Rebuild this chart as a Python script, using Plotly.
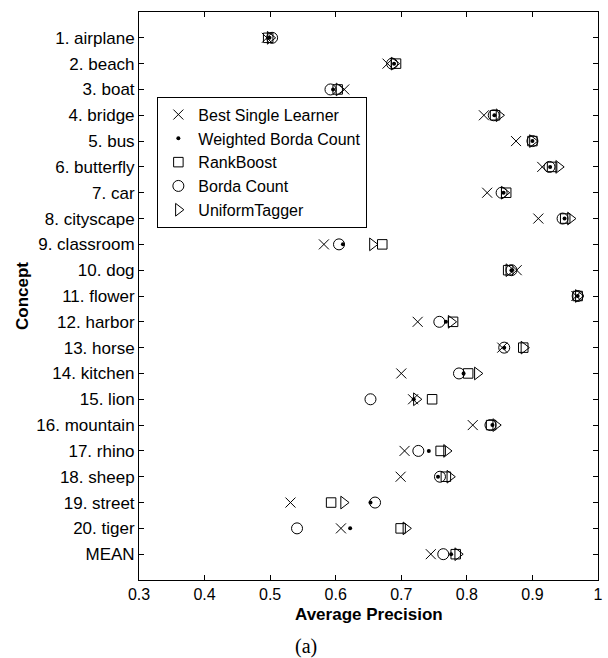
import plotly.graph_objects as go

categories = ["1. airplane", "2. beach", "3. boat", "4. bridge", "5. bus", "6. butterfly",
              "7. car", "8. cityscape", "9. classroom", "10. dog", "11. flower", "12. harbor",
              "13. horse", "14. kitchen", "15. lion", "16. mountain", "17. rhino", "18. sheep",
              "19. street", "20. tiger", "MEAN"]

best_single = [0.495, 0.679, 0.613, 0.826, 0.875, 0.915, 0.831, 0.909, 0.582, 0.876, 0.967,
               0.725, 0.854, 0.700, 0.718, 0.809, 0.705, 0.699, 0.531, 0.608, 0.745]
weighted_borda = [0.499, 0.689, 0.596, 0.842, 0.900, 0.927, 0.856, 0.949, 0.611, 0.868, 0.969,
                  0.768, 0.857, 0.795, 0.719, 0.839, 0.742, 0.756, 0.653, 0.622, 0.776]
rankboost = [0.497, 0.692, 0.603, 0.843, 0.900, 0.930, 0.860, 0.950, 0.671, 0.863, 0.969,
             0.779, 0.886, 0.802, 0.747, 0.837, 0.760, 0.768, 0.593, 0.699, 0.783]
borda_count = [0.503, 0.686, 0.592, 0.841, 0.900, 0.926, 0.853, 0.946, 0.605, 0.868, 0.969,
               0.758, 0.857, 0.788, 0.653, 0.836, 0.726, 0.759, 0.660, 0.541, 0.764]
uniform_tagger = [0.500, 0.689, 0.605, 0.849, 0.900, 0.940, 0.857, 0.958, 0.656, 0.864, 0.970,
                  0.776, 0.887, 0.816, 0.723, 0.844, 0.769, 0.774, 0.612, 0.707, 0.786]

x_ticks = [0.3, 0.4, 0.5, 0.6, 0.7, 0.8, 0.9, 1.0]
x_tick_text = ["0.3", "0.4", "0.5", "0.6", "0.7", "0.8", "0.9", "1"]

FONT = "Liberation Sans, Arial, Helvetica, sans-serif"

series = [
    ("Best Single Learner", best_single, dict(symbol="x-thin-open", size=10, color="black",
                                               line=dict(color="black", width=1))),
    ("Weighted Borda Count", weighted_borda, dict(symbol="circle", size=4, color="black",
                                                  line=dict(color="black", width=0))),
    ("RankBoost", rankboost, dict(symbol="square-open", size=9.5, color="black",
                                  line=dict(color="black", width=1))),
    ("Borda Count", borda_count, dict(symbol="circle-open", size=11, color="black",
                                      line=dict(color="black", width=1))),
    ("UniformTagger", uniform_tagger, dict(symbol="triangle-right-open", size=11, color="black",
                                           line=dict(color="black", width=1))),
]

fig = go.Figure()
for name, vals, marker in series:
    fig.add_trace(go.Scatter(x=vals, y=categories, mode="markers", name=name, marker=marker))

fig.update_layout(
    width=608, height=658,
    margin=dict(l=139, r=5, t=12, b=78, pad=0),
    plot_bgcolor="white", paper_bgcolor="white",
    font=dict(family=FONT, size=17, color="black"),
    showlegend=True,
    legend=dict(x=0.040, y=0.851, xanchor="left", yanchor="top",
                bordercolor="black", borderwidth=1, bgcolor="white",
                font=dict(family=FONT, size=16, color="black"),
                tracegroupgap=0, itemsizing="trace",
                entrywidth=212, entrywidthmode="pixels"),
    xaxis=dict(range=[0.3, 1.0], tickvals=x_ticks, ticktext=x_tick_text,
               ticks="inside", ticklen=5, tickcolor="black", tickwidth=1,
               showline=True, linecolor="black", linewidth=1, mirror="allticks",
               showgrid=False, zeroline=False,
               tickfont=dict(family=FONT, size=16, color="black")),
    yaxis=dict(type="category", categoryorder="array", categoryarray=categories,
               range=[21, -1],
               ticks="inside", ticklen=5, tickcolor="black", tickwidth=1,
               showline=True, linecolor="black", linewidth=1, mirror="allticks",
               showgrid=False, zeroline=False,
               tickfont=dict(family=FONT, size=17, color="black")),
    annotations=[
        dict(text="<b>Concept</b>", xref="paper", yref="paper",
             x=(20.7 - 139) / 464, y=(580 - 296) / 568, textangle=-90,
             xanchor="center", yanchor="middle", showarrow=False,
             font=dict(family=FONT, size=17, color="black")),
        dict(text="<b>Average Precision</b>", xref="paper", yref="paper",
             x=0.5, y=(580 - 614) / 568, xanchor="center", yanchor="middle",
             showarrow=False, font=dict(family=FONT, size=17, color="black")),
        dict(text="(a)", xref="paper", yref="paper",
             x=(308 - 139) / 464, y=(580 - 646) / 568, xanchor="center", yanchor="middle",
             showarrow=False, font=dict(family="Liberation Serif, DejaVu Serif, serif",
                                        size=20, color="black")),
    ],
)

fig.write_html("out.html")
